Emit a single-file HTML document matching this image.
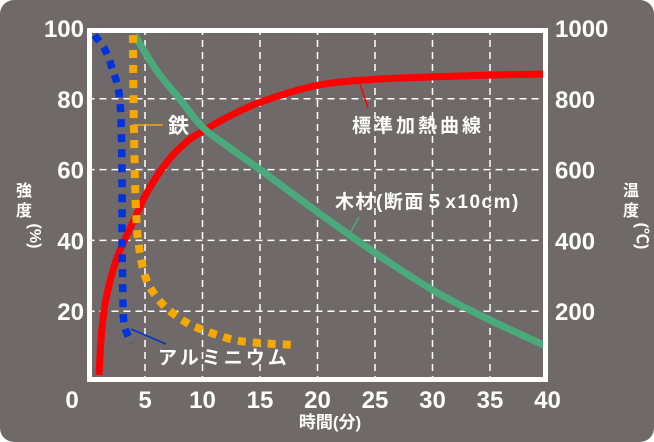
<!DOCTYPE html>
<html><head><meta charset="utf-8">
<style>
html,body{margin:0;padding:0;background:#fff}
#wrap{width:654px;height:442px;position:relative;overflow:hidden}
svg text{font-family:"Liberation Sans","Noto Sans CJK JP",sans-serif;fill:#fff}
</style></head>
<body><div id="wrap">
<svg id="chart" width="654" height="442" viewBox="0 0 654 442">
<rect x="0" y="0" width="654" height="442" rx="14" fill="#6f6a69"/>
<g id="grid"></g>
<g id="series"></g>
<rect x="89.5" y="30.5" width="456" height="349" fill="none" stroke="#fff" stroke-width="5"/>
<g id="ticks"></g>
<g>
<line x1="133" y1="125" x2="163" y2="125" stroke="#f5a800" stroke-width="1.5"/>
<text x="168" y="133" font-size="21" font-weight="bold">鉄</text>
<line x1="131" y1="329" x2="166" y2="344" stroke="#0033cc" stroke-width="1.5"/>
<text x="158" y="364" font-size="19" font-weight="bold" letter-spacing="3">アルミニウム</text>
<line x1="360" y1="84" x2="368" y2="108" stroke="#ff0000" stroke-width="1.5"/>
<text x="352" y="132" font-size="19" font-weight="bold" letter-spacing="3">標準加熱曲線</text>
<line x1="359" y1="217" x2="348" y2="237" stroke="#4aaa7c" stroke-width="1.5"/>
<text x="335" y="208" font-size="19" font-weight="bold" letter-spacing="1.5">木材(断面５x10cm)</text>
</g>
<text x="330" y="428" font-size="17" font-weight="bold" text-anchor="middle">時間(分)</text>
<g>
<text x="24" y="196" font-size="16" font-weight="bold" text-anchor="middle">強</text>
<text x="24" y="216" font-size="16" font-weight="bold" text-anchor="middle">度</text>
<text x="24" y="236" font-size="16" font-weight="bold" text-anchor="middle" transform="rotate(90 24 236)" dy="-6">(%)</text>
</g>
<g>
<text x="631" y="196" font-size="16" font-weight="bold" text-anchor="middle">温</text>
<text x="631" y="216" font-size="16" font-weight="bold" text-anchor="middle">度</text>
<text x="631" y="236" font-size="16" font-weight="bold" text-anchor="middle" transform="rotate(90 631 236)" dy="-6">(℃)</text>
</g>
</svg>
</div>
<script>
const xTicks=[0,5,10,15,20,25,30,35,40];
const yTicksLeft=[20,40,60,80,100];
const yTicksRight=[200,400,600,800,1000];
const standardT=[1,1.2,1.5,2,2.5,3,3.5,4,4.5,5,6,7,8,9,10,12,15,20,25,30,35,40];
const standardTemp=[20,130,215,290,345,385,420,455,490,525,580,625,660,688,708,745,790,838,855,862,867,870];
const woodT=[4.1,6,8,10,12,15,20,25,30,35,40];
const woodTemp=[980,880,800,720,670,600,480,365,260,175,100];
const ironT=[3.95,4.0,4.1,4.2,4.4,5,6,7.2,8.5,9.8,12.6,15,18];
const ironStrength=[98,80,61,50,40,30,24,20,17,15,12,11,10.5];
const aluT=[0.6,1.5,2.1,2.8,3,3,3.05,3.1,3.2,3.4,3.8];
const aluStrength=[98,94,89,80,60,40,30,20,16,14,11];
const NS='http://www.w3.org/2000/svg';
const X0=87.5,X1=547.5,Y0=382,Y1=28;
function xs(t){return X0+(X1-X0)*t/40;}
function ys(v){return Y0-(Y0-Y1)*v/100;}
function yt(c){return ys(c/10);}
function mk(tag,attrs,parent){const e=document.createElementNS(NS,tag);for(const k in attrs)e.setAttribute(k,attrs[k]);parent.appendChild(e);return e;}
const grid=document.getElementById('grid'),ticks=document.getElementById('ticks'),series=document.getElementById('series');
xTicks.forEach(t=>{
 if(t>0&&t<40){const l=mk('line',{x1:xs(t),x2:xs(t),y1:Y1,y2:Y0,stroke:'#fff','stroke-width':1.5,'stroke-dasharray':'7,5'},grid);
 
 }
 const tx=mk('text',{x:t===0?72:xs(t),y:408,'font-size':24,'font-weight':'bold','text-anchor':'middle'},ticks);tx.textContent=t;
 
 
});
yTicksLeft.forEach(v=>{
 if(v<100){const l=mk('line',{x1:X0,x2:X1,y1:ys(v),y2:ys(v),stroke:'#fff','stroke-width':1.5,'stroke-dasharray':'7,5'},grid);
 
 }
 const tx=mk('text',{x:84,y:ys(v)+9,'font-size':24,'font-weight':'bold','text-anchor':'end'},ticks);tx.textContent=v;
 
 
});
yTicksRight.forEach(c=>{
 const tx=mk('text',{x:555,y:yt(c)+9,'font-size':24,'font-weight':'bold'},ticks);tx.textContent=c;
 
 
});
function smooth(pts){let d='M'+pts[0][0]+','+pts[0][1];
 for(let i=0;i<pts.length-1;i++){const p0=pts[i-1]||pts[i],p1=pts[i],p2=pts[i+1],p3=pts[i+2]||p2;
  d+=' C'+(p1[0]+(p2[0]-p0[0])/6)+','+(p1[1]+(p2[1]-p0[1])/6)+' '+(p2[0]-(p3[0]-p1[0])/6)+','+(p2[1]-(p3[1]-p1[1])/6)+' '+p2[0]+','+p2[1];}
 return d;}
const s1=mk('path',{d:smooth(standardT.map((t,i)=>[xs(t),yt(standardTemp[i])])),fill:'none',stroke:'#ff0000','stroke-width':7},series);


const s2=mk('path',{d:smooth(woodT.map((t,i)=>[xs(t),yt(woodTemp[i])])),fill:'none',stroke:'#4aaa7c','stroke-width':7},series);


const s3=mk('path',{d:smooth(ironT.map((t,i)=>[xs(t),ys(ironStrength[i])])),fill:'none',stroke:'#f5a800','stroke-width':8,'stroke-dasharray':'8,7'},series);


const s4=mk('path',{d:smooth(aluT.map((t,i)=>[xs(t),ys(aluStrength[i])])),fill:'none',stroke:'#0033dd','stroke-width':7.5,'stroke-dasharray':'8,7'},series);


</script>
</body></html>
